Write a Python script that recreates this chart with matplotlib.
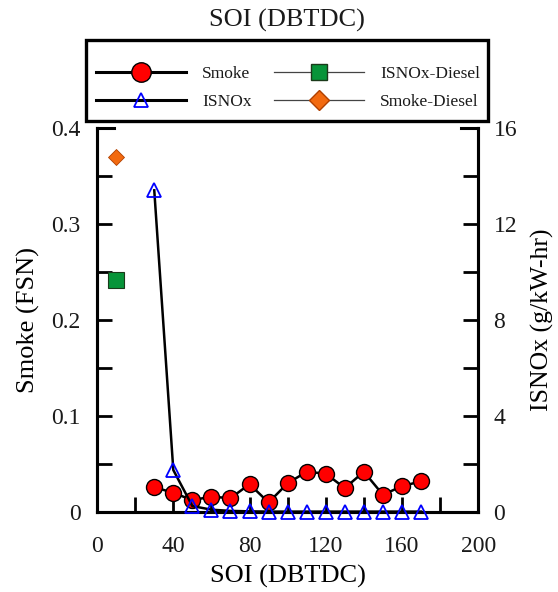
import numpy as np
import matplotlib
matplotlib.use("Agg")
import matplotlib.pyplot as plt
from matplotlib.lines import Line2D
from matplotlib.patches import Rectangle
from matplotlib.ticker import MultipleLocator

plt.rcParams['font.family'] = ['Liberation Serif', 'DejaVu Serif']
plt.rcParams['text.color'] = '#1a1a1a'
plt.rcParams['xtick.labelcolor'] = '#1a1a1a'
plt.rcParams['ytick.labelcolor'] = '#1a1a1a'

# data
soi = [30, 40, 50, 60, 70, 80, 90, 100, 110, 120, 130, 140, 150, 160, 170]
smoke = [0.026, 0.020, 0.0125, 0.016, 0.0145, 0.029, 0.010, 0.030, 0.042, 0.040,
         0.025, 0.042, 0.018, 0.027, 0.032]
isnox = [13.4, 1.75, 0.25, 0.10, 0.05, 0.03, 0.02, 0.02, 0.02, 0.02,
         0.02, 0.02, 0.02, 0.02, 0.02]
diesel_soi = [10]
smoke_diesel = [0.370]
isnox_diesel = [9.65]

fig = plt.figure(figsize=(5.58, 5.92), dpi=100)
ax = fig.add_axes([0.174, 0.135, 0.683, 0.649])
ax2 = ax.twinx()

# smoke on left axis
l1, = ax.plot(soi, smoke, color="black", lw=1.8, marker="o", ms=11.5,
              mfc="red", mec="black", mew=1.0, zorder=3)
l4, = ax.plot(diesel_soi, smoke_diesel, color="#555555", lw=0.9, marker="D", ms=8,
              mfc="#F26A10", mec="#B04000", mew=0.6, ls="none", zorder=3)

# ISNOx on right axis (markers hang over the bottom spine)
l2, = ax2.plot(soi, isnox, color="black", lw=1.8, marker="^", ms=10,
               mfc="none", mec="blue", mew=1.3, zorder=3, clip_on=False)
l3, = ax2.plot(diesel_soi, isnox_diesel, color="#555555", lw=0.9, marker="s", ms=11.5,
               mfc="#079439", mec="#1a3a1a", mew=0.8, ls="none", zorder=3)

ax.set_xlim(0, 200)
ax.set_ylim(0, 0.4)
ax2.set_ylim(0, 16)
ax.xaxis.set_major_locator(MultipleLocator(40))
ax.xaxis.set_minor_locator(MultipleLocator(20))
ax.set_yticks([0, 0.1, 0.2, 0.3, 0.4])
ax.set_yticklabels(["0", "0.1", "0.2", "0.3", "0.4"])
ax.yaxis.set_minor_locator(MultipleLocator(0.05))
ax2.yaxis.set_major_locator(MultipleLocator(4))
ax2.yaxis.set_minor_locator(MultipleLocator(2))

for a in (ax, ax2):
    a.tick_params(which="both", direction="in", length=11, width=2.0,
                  labelsize=17, pad=12)
    for s in a.spines.values():
        s.set_linewidth(2.2)
    a.spines["top"].set_visible(False)
ax.tick_params(axis="y", which="both", right=False)
ax.tick_params(axis="x", which="both", top=False, pad=17)
ax2.tick_params(axis="y", pad=11)

# short top corner pieces
for xs in ([0, 0.045], [0.955, 1.0]):
    ax.add_line(Line2D(xs, [1, 1], transform=ax.transAxes, color="black",
                       lw=2.2, clip_on=False, solid_capstyle="projecting"))

ax.set_xlabel("SOI (DBTDC)", fontsize=19, labelpad=6)
ax.set_ylabel("Smoke (FSN)", fontsize=19, labelpad=8)
ax2.set_ylabel("ISNOx (g/kW-hr)", fontsize=18.5, labelpad=10)

fig.text(0.514, 0.965, "SOI (DBTDC)", fontsize=19, ha="center", va="center")

# legend box drawn separately, legend itself without frame
fig.patches.append(Rectangle((0.154, 0.796), 0.720, 0.137, transform=fig.transFigure,
                             fill=True, facecolor="white", edgecolor="black", lw=2.4))

h1 = Line2D([], [], color="black", lw=2.2, marker="o", ms=14, mfc="red", mec="black")
h2 = Line2D([], [], color="black", lw=2.2, marker="^", ms=10, mfc="none", mec="blue", mew=1.3)
h3 = Line2D([], [], color="#444444", lw=0.9, marker="s", ms=12, mfc="#079439", mec="#1a3a1a")
h4 = Line2D([], [], color="#444444", lw=0.9, marker="D", ms=10, mfc="#F26A10", mec="#B04000")
leg = fig.legend([h1, h2, h3, h4], ["Smoke", "ISNOx", "ISNOx-Diesel", "Smoke-Diesel"],
                 ncol=2, loc="center", bbox_to_anchor=(0.516, 0.852), fontsize=12.5,
                 handlelength=5.2, handletextpad=0.9, columnspacing=1.3,
                 labelspacing=0.68, borderpad=0.2, frameon=False)

fig.savefig("out.png", dpi=100)
